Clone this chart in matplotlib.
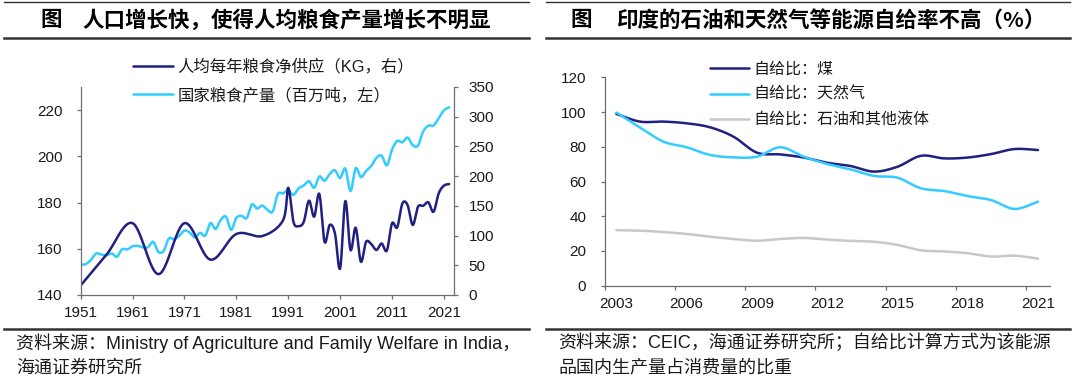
import numpy as np
import matplotlib

matplotlib.use("Agg")
import matplotlib.pyplot as plt
from matplotlib.lines import Line2D

plt.rcParams["font.family"] = ["Liberation Sans", "Noto Sans CJK SC"]

W, H = 1080, 381
DARK = "#202080"
CYAN = "#33CCFF"
GREY = "#C8C8C8"
AXIS = "#6E6E6E"
TEXT = "#1A1A1A"

# left panel: grain output (right axis) and per-capita net supply (left axis)
GRAIN_YEARS = list(range(1951, 2023))
GRAIN_OUTPUT = [
    50.8, 52.0, 59.2, 69.8, 68.0, 66.9, 69.9, 64.3, 77.1, 76.7,
    82.0, 82.7, 80.2, 80.6, 89.4, 72.4, 74.2, 95.1, 94.0, 99.5,
    108.4, 105.2, 97.0, 104.7, 99.8, 121.0, 111.2, 126.4, 131.9, 109.7,
    129.6, 133.3, 129.5, 152.4, 145.5, 150.4, 143.4, 140.4, 169.9, 171.0,
    176.4, 168.4, 179.5, 184.3, 191.5, 180.4, 199.4, 192.3, 203.6, 209.8,
    196.8, 212.9, 174.8, 213.2, 198.4, 208.6, 217.3, 230.8, 234.5, 218.1,
    244.5, 259.3, 257.1, 265.0, 252.0, 251.5, 275.1, 285.0, 285.2, 297.5,
    310.7, 315.7,
]
SUPPLY_YEARS = [1951, 1956, 1961, 1966, 1971, 1976, 1981, 1986, 1990] + list(range(1991, 2023))
SUPPLY_KG = [
    144.1, 157.5, 171.1, 149.0, 171.1, 155.3, 166.4, 165.5, 172.3,
    186.4, 171.7, 169.8, 171.7, 180.8, 173.9, 183.7, 163.0, 170.3, 166.7,
    151.5, 180.6, 159.5, 169.1, 154.4, 163.0, 162.0, 159.5, 162.3, 159.2,
    171.0, 169.3, 179.6, 178.9, 170.3, 178.2, 178.6, 180.1, 176.0, 184.0,
    187.3, 188.0,
]

# right panel: self-sufficiency ratios (%)
ENERGY_YEARS = list(range(2003, 2022))
COAL = [98.9, 94.5, 94.5, 93.5, 91.2, 85.8, 76.6, 75.6, 73.8, 70.8,
        68.9, 65.7, 68.5, 74.8, 73.3, 73.8, 75.8, 78.7, 78.1]
GAS = [99.7, 91.2, 83.0, 79.7, 75.3, 73.9, 74.3, 79.7, 74.3, 70.1,
       67.0, 63.2, 62.2, 56.1, 54.5, 51.6, 49.3, 44.2, 48.4]
OIL = [32.0, 31.7, 30.9, 29.8, 28.2, 26.9, 25.9, 26.9, 27.5, 26.5,
       25.8, 25.3, 23.5, 20.4, 19.7, 18.7, 16.8, 17.3, 15.6]


def smooth(x, y, steps=16):
    # excel-style smoothed line (bezier through the points)
    p = np.column_stack([x, y]).astype(float)
    ext = np.vstack([p[0], p, p[-1]])
    t = np.linspace(0, 1, steps + 1)[1:, None]
    out = [p[:1]]
    for i in range(len(p) - 1):
        p0, p1, p2, p3 = ext[i], ext[i + 1], ext[i + 2], ext[i + 3]
        c1 = p1 + (p2 - p0) / 6
        c2 = p2 - (p3 - p1) / 6
        out.append((1 - t) ** 3 * p1 + 3 * (1 - t) ** 2 * t * c1 + 3 * (1 - t) * t ** 2 * c2 + t ** 3 * p2)
    pts = np.vstack(out)
    return pts[:, 0], pts[:, 1]


def axes_px(left, top, right, bottom):
    return [left / W, (H - bottom) / H, (right - left) / W, (bottom - top) / H]


def hline(fig, x0, x1, y, lw, color="#333333"):
    fig.add_artist(Line2D([x0 / W, x1 / W], [(H - y) / H, (H - y) / H],
                          transform=fig.transFigure, color=color, lw=lw))


def style_axis(ax, sides):
    for side in ["left", "right", "top", "bottom"]:
        ax.spines[side].set_visible(side in sides)
        ax.spines[side].set_color(AXIS)
        ax.spines[side].set_linewidth(0.9)
    ax.tick_params(direction="out", length=3.2, width=0.9, color=AXIS,
                   labelsize=11, labelcolor=TEXT)


fig = plt.figure(figsize=(W / 100, H / 100), dpi=100)

# frame lines and titles
for x0, x1 in [(4, 529), (546, 1070)]:
    hline(fig, x0, x1, 2.0, 1.0)
    hline(fig, x0, x1, 37.5, 1.8)
    hline(fig, x0, x1, 328.5, 1.8)

title_kw = dict(fontsize=15.5, fontweight="bold", color="black", va="center",
                family=["Noto Sans CJK SC"])
fig.text(40 / W, (H - 20) / H, "图", **title_kw)
fig.text(82 / W, (H - 20) / H, "人口增长快，使得人均粮食产量增长不明显", **title_kw)
fig.text(570 / W, (H - 20) / H, "图", **title_kw)
fig.text(616 / W, (H - 20) / H, "印度的石油和天然气等能源自给率不高（%）", **title_kw)

src_kw = dict(fontsize=13, color=TEXT, va="center")
fig.text(16 / W, (H - 343) / H, "资料来源：Ministry of Agriculture and Family Welfare in India，", **src_kw)
fig.text(16 / W, (H - 368) / H, "海通证券研究所", **src_kw)
fig.text(558 / W, (H - 343) / H, "资料来源：CEIC，海通证券研究所；自给比计算方式为该能源", **src_kw)
fig.text(558 / W, (H - 368) / H, "品国内生产量占消费量的比重", **src_kw)

# left chart
ax = fig.add_axes(axes_px(80.6, 87, 454.3, 295))
ax2 = ax.twinx()
ax.set_zorder(ax2.get_zorder() + 1)
ax.patch.set_visible(False)

sx, sy = smooth(SUPPLY_YEARS, SUPPLY_KG)
dark_line, = ax.plot(sx, sy, color=DARK, lw=1.8, solid_capstyle="round")
gx, gy = smooth(GRAIN_YEARS, GRAIN_OUTPUT, steps=8)
cyan_line, = ax2.plot(gx, gy, color=CYAN, lw=1.8, solid_capstyle="round")

ax.set_xlim(1951, 2023)
ax.set_ylim(140, 230)
ax.set_yticks(range(140, 221, 20))
ax.set_xticks(range(1951, 2022, 10))
ax2.set_ylim(0, 350)
ax2.set_yticks(range(0, 351, 50))
style_axis(ax, ["left", "bottom"])
style_axis(ax2, ["right"])
ax.tick_params(axis="y", pad=10)
ax.tick_params(axis="x", pad=5)
ax2.tick_params(axis="y", pad=7)

leg = ax.legend([dark_line, cyan_line],
                ["人均每年粮食净供应（KG，右）", "国家粮食产量（百万吨，左）"],
                loc="upper left", bbox_to_anchor=(133 / W, (H - 58.5) / H),
                bbox_transform=fig.transFigure, frameon=False, fontsize=11.8,
                handlelength=2.45, handletextpad=0.25, labelspacing=0.76,
                borderpad=0, borderaxespad=0)
for t in leg.get_texts():
    t.set_color(TEXT)

# right chart
ax3 = fig.add_axes(axes_px(604.7, 77.3, 1049.7, 285.7))
idx = np.arange(len(ENERGY_YEARS))
lines = []
for values, color in [(COAL, DARK), (GAS, CYAN), (OIL, GREY)]:
    x, y = smooth(idx, values)
    ln, = ax3.plot(x, y, color=color, lw=1.8, solid_capstyle="round")
    lines.append(ln)

ax3.set_xlim(-0.5, len(ENERGY_YEARS) - 0.5)
ax3.set_ylim(0, 120)
ax3.set_yticks(range(0, 121, 20))
ax3.set_xticks(np.arange(-0.5, len(ENERGY_YEARS) - 0.5, 3))
ax3.set_xticklabels([])
ax3.set_xticks(idx[::3], minor=True)
ax3.set_xticklabels([str(ENERGY_YEARS[i]) for i in idx[::3]], minor=True)
style_axis(ax3, ["left", "bottom"])
ax3.tick_params(axis="x", which="minor", length=0, pad=5 + 3.2,
                labelsize=11, labelcolor=TEXT)
ax3.tick_params(axis="y", pad=10)

leg3 = ax3.legend(lines, ["自给比：煤", "自给比：天然气", "自给比：石油和其他液体"],
                  loc="upper left", bbox_to_anchor=(709.5 / W, (H - 61.5) / H),
                  bbox_transform=fig.transFigure, frameon=False, fontsize=11.5,
                  handlelength=2.5, handletextpad=0.25, labelspacing=0.66,
                  borderpad=0, borderaxespad=0)
for t in leg3.get_texts():
    t.set_color(TEXT)

fig.savefig("out.png", dpi=100)
